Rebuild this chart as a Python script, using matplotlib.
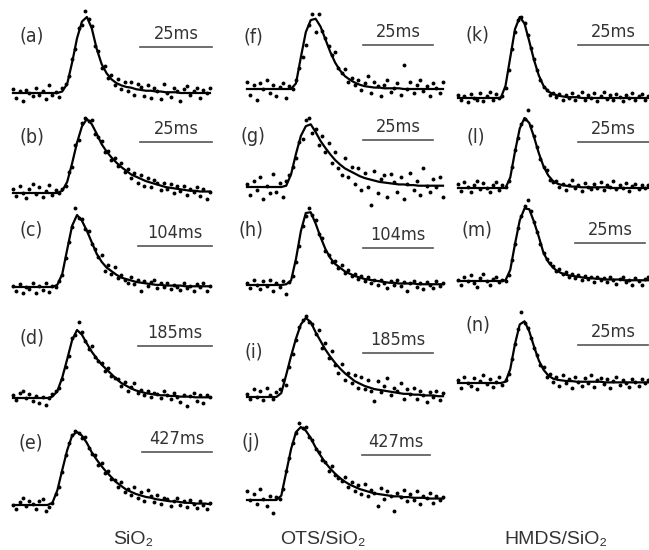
import matplotlib.pyplot as plt
import numpy as np

# normalised time axis shared by every trace (0 = left end of panel, 1 = right end)
x_fit = np.linspace(0, 1, 41)
x_pts = np.linspace(0, 1, 61)

# fitted curves (normalised intensity, baseline 0, peak 1)
fit_a = [0, 0, 0, 0, 0, 0, 0, 0, 0, 0,
         0.02, 0.12, 0.40, 0.72, 0.94, 1.00, 0.85, 0.58, 0.38, 0.26,
         0.18, 0.13, 0.10, 0.08, 0.07, 0.05, 0.04, 0.03, 0.03, 0.02,
         0.02, 0.01, 0.01, 0.01, 0, 0, 0, 0, 0, 0,
         0]
fit_b = [0, 0, 0, 0, 0, 0, 0, 0, 0, 0,
         0.03, 0.15, 0.40, 0.68, 0.90, 1.00, 0.93, 0.80, 0.66, 0.56,
         0.48, 0.41, 0.35, 0.30, 0.25, 0.22, 0.19, 0.16, 0.14, 0.12,
         0.10, 0.08, 0.07, 0.06, 0.05, 0.04, 0.03, 0.03, 0.02, 0.02,
         0.02]
fit_c = [0, 0, 0, 0, 0, 0, 0, 0, 0, 0.03,
         0.18, 0.52, 0.85, 1.00, 0.92, 0.78, 0.62, 0.46, 0.35, 0.27,
         0.22, 0.17, 0.13, 0.11, 0.09, 0.07, 0.06, 0.05, 0.04, 0.03,
         0.03, 0.02, 0.02, 0.02, 0.02, 0.01, 0.01, 0.01, 0.01, 0.01,
         0.01]
fit_d = [0, 0, 0, 0, 0, 0, 0, 0, 0.02, 0.10,
         0.30, 0.57, 0.85, 1.00, 0.93, 0.80, 0.68, 0.58, 0.49, 0.42,
         0.35, 0.28, 0.22, 0.18, 0.14, 0.11, 0.09, 0.07, 0.06, 0.05,
         0.04, 0.04, 0.03, 0.03, 0.02, 0.02, 0.02, 0.01, 0.01, 0.01,
         0.01]
fit_e = [0, 0, 0, 0, 0, 0, 0, 0, 0.03, 0.20,
         0.48, 0.75, 0.95, 1.00, 0.95, 0.85, 0.72, 0.62, 0.53, 0.45,
         0.38, 0.31, 0.26, 0.21, 0.18, 0.15, 0.13, 0.11, 0.10, 0.08,
         0.07, 0.06, 0.05, 0.05, 0.04, 0.03, 0.03, 0.02, 0.02, 0.02,
         0.01]
fit_f = [0, 0, 0, 0, 0, 0, 0, 0, 0, 0,
         0.08, 0.45, 0.80, 0.97, 0.99, 0.88, 0.70, 0.52, 0.37, 0.26,
         0.18, 0.13, 0.09, 0.06, 0.04, 0.03, 0.02, 0.02, 0.01, 0.01,
         0.01, 0.01, 0, 0, 0, 0, 0, 0, 0, 0,
         0]
fit_g = [0, 0, 0, 0, 0, 0, 0, 0, 0.02, 0.20,
         0.52, 0.80, 0.95, 0.98, 0.86, 0.72, 0.61, 0.51, 0.42, 0.35,
         0.29, 0.25, 0.21, 0.17, 0.14, 0.12, 0.10, 0.08, 0.07, 0.06,
         0.05, 0.04, 0.04, 0.03, 0.03, 0.02, 0.02, 0.02, 0.02, 0.02,
         0.02]
fit_h = [0, 0, 0, 0, 0, 0, 0, 0, 0.01, 0.06,
         0.35, 0.72, 0.96, 0.97, 0.82, 0.64, 0.48, 0.36, 0.28, 0.23,
         0.18, 0.15, 0.12, 0.10, 0.08, 0.07, 0.06, 0.05, 0.04, 0.03,
         0.03, 0.02, 0.02, 0.02, 0.02, 0.01, 0.01, 0.01, 0.01, 0.01,
         0.01]
fit_i = [0, 0, 0, 0, 0, 0, 0, 0.05, 0.28, 0.52,
         0.74, 0.92, 1.00, 0.95, 0.82, 0.71, 0.60, 0.51, 0.43, 0.36,
         0.30, 0.25, 0.20, 0.17, 0.14, 0.12, 0.10, 0.09, 0.08, 0.07,
         0.06, 0.05, 0.04, 0.04, 0.03, 0.03, 0.02, 0.02, 0.02, 0.01,
         0.01]
fit_j = [0, 0, 0, 0, 0, 0, 0, 0.06, 0.38, 0.70,
         0.93, 1.00, 0.95, 0.85, 0.72, 0.61, 0.51, 0.43, 0.36, 0.30,
         0.25, 0.21, 0.18, 0.15, 0.13, 0.11, 0.09, 0.08, 0.07, 0.06,
         0.05, 0.05, 0.04, 0.04, 0.03, 0.03, 0.03, 0.02, 0.02, 0.02,
         0.02]
fit_k = [0, 0, 0, 0, 0, 0, 0, 0, 0, 0,
         0.15, 0.50, 0.85, 1.00, 0.92, 0.70, 0.47, 0.28, 0.15, 0.08,
         0.05, 0.03, 0.02, 0.01, 0.01, 0.01, 0, 0, 0, 0,
         0, 0, 0, 0, 0, 0, 0, 0, 0, 0,
         0]
fit_l = [0, 0, 0, 0, 0, 0, 0, 0, 0, 0,
         0.00, 0.15, 0.52, 0.85, 1.00, 0.93, 0.73, 0.50, 0.31, 0.18,
         0.10, 0.06, 0.04, 0.03, 0.02, 0.02, 0.01, 0.01, 0.01, 0.01,
         0.01, 0.01, 0, 0, 0, 0, 0, 0, 0, 0,
         0]
fit_m = [0, 0, 0, 0, 0, 0, 0, 0, 0, 0,
         0.01, 0.15, 0.50, 0.82, 0.98, 0.97, 0.80, 0.60, 0.38, 0.26,
         0.18, 0.13, 0.10, 0.08, 0.07, 0.06, 0.05, 0.04, 0.04, 0.03,
         0.03, 0.02, 0.02, 0.02, 0.02, 0.01, 0.01, 0.01, 0.01, 0.01,
         0.01]
fit_n = [0, 0, 0, 0, 0, 0, 0, 0, 0, 0,
         0.02, 0.22, 0.62, 0.93, 0.98, 0.82, 0.58, 0.36, 0.21, 0.12,
         0.07, 0.05, 0.04, 0.03, 0.03, 0.02, 0.02, 0.02, 0.02, 0.02,
         0.02, 0.01, 0.01, 0.01, 0.01, 0.01, 0.01, 0.01, 0.01, 0.01,
         0.01]

# measured points (same normalisation)
pts_a = [0.05, -0.06, 0.02, -0.10, 0.04, 0.00, -0.04, 0.07, -0.02, 0.03,
         -0.08, 0.10, -0.03, 0.01, -0.05, 0.06, 0.12, 0.22, 0.45, 0.58,
         0.85, 0.90, 1.08, 0.98, 0.88, 0.62, 0.55, 0.33, 0.35, 0.20,
         0.24, 0.10, 0.18, 0.05, 0.14, 0.02, 0.15, -0.03, 0.12, 0.08,
         -0.04, 0.10, -0.06, 0.07, 0.02, -0.08, 0.12, 0.00, -0.05, 0.06,
         0.03, -0.10, 0.05, 0.09, -0.03, 0.02, 0.07, -0.06, 0.04, 0.00,
         0.06]
pts_b = [0.06, -0.04, 0.10, 0.00, -0.07, 0.05, 0.12, -0.02, 0.08, -0.05,
         0.03, 0.11, -0.03, 0.04, 0.00, 0.05, 0.10, 0.28, 0.35, 0.65,
         0.72, 0.95, 1.02, 0.97, 0.98, 0.80, 0.76, 0.70, 0.55, 0.57,
         0.45, 0.47, 0.36, 0.40, 0.28, 0.33, 0.20, 0.27, 0.14, 0.24,
         0.10, 0.20, 0.08, 0.18, 0.14, 0.04, 0.13, 0.06, 0.12, 0.00,
         0.09, 0.03, 0.10, -0.03, 0.06, 0.01, 0.08, -0.04, 0.05, -0.08,
         0.02]
pts_c = [0.02, -0.05, 0.04, -0.08, 0.00, -0.03, 0.05, -0.09, 0.01, -0.04,
         0.06, -0.07, 0.02, 0.00, 0.08, 0.16, 0.40, 0.62, 0.83, 1.10,
         0.96, 0.95, 0.80, 0.78, 0.60, 0.53, 0.42, 0.45, 0.22, 0.30,
         0.18, 0.28, 0.12, 0.16, 0.10, 0.06, 0.14, 0.04, 0.10, -0.05,
         0.08, 0.02, 0.07, 0.10, -0.02, 0.05, 0.00, 0.06, -0.03, 0.03,
         0.00, -0.04, 0.05, -0.02, 0.02, -0.06, 0.04, 0.00, 0.06, -0.05,
         0.02]
pts_d = [0.05, -0.03, 0.08, 0.10, 0.00, 0.06, -0.04, 0.03, -0.07, 0.02,
         -0.10, 0.00, 0.06, 0.10, 0.15, 0.28, 0.46, 0.62, 0.88, 0.92,
         1.12, 0.97, 0.84, 0.72, 0.76, 0.60, 0.55, 0.52, 0.40, 0.44,
         0.32, 0.30, 0.28, 0.18, 0.24, 0.10, 0.16, 0.22, 0.08, 0.12,
         0.04, 0.10, 0.02, 0.08, 0.06, 0.00, 0.10, 0.04, -0.02, 0.08,
         0.02, -0.06, 0.05, -0.12, 0.03, 0.07, -0.04, 0.05, -0.08, 0.04,
         0.02]
pts_e = [0.00, -0.05, 0.04, 0.10, -0.02, 0.06, 0.02, -0.06, 0.05, 0.08,
         -0.08, -0.03, 0.03, 0.15, 0.25, 0.45, 0.68, 0.85, 0.96, 1.02,
         0.98, 0.92, 0.93, 0.78, 0.70, 0.68, 0.55, 0.58, 0.44, 0.46,
         0.36, 0.34, 0.25, 0.32, 0.18, 0.22, 0.14, 0.24, 0.10, 0.18,
         0.06, 0.20, 0.12, 0.04, 0.14, 0.02, 0.10, 0.08, -0.02, 0.06,
         0.10, 0.00, 0.05, -0.03, 0.07, 0.02, -0.04, 0.06, 0.00, -0.05,
         0.03]
pts_f = [0.10, -0.08, 0.05, -0.15, 0.08, 0.00, 0.12, -0.05, 0.06, -0.10,
         0.03, 0.09, -0.12, 0.04, 0.00, 0.12, 0.30, 0.45, 0.62, 0.90,
         1.05, 0.80, 1.05, 0.82, 0.72, 0.60, 0.48, 0.52, 0.30, 0.22,
         0.28, 0.10, 0.15, 0.05, 0.12, -0.02, 0.08, 0.18, -0.06, 0.10,
         0.04, -0.10, 0.06, 0.12, -0.04, 0.02, 0.08, -0.08, 0.34, 0.00,
         0.10, -0.05, 0.06, 0.12, -0.03, 0.04, -0.10, 0.08, 0.02, -0.06,
         0.10]
pts_g = [0.05, -0.12, 0.10, -0.05, 0.15, -0.18, 0.02, -0.10, 0.20, -0.08,
         0.06, -0.15, 0.10, 0.18, 0.32, 0.45, 0.70, 0.75, 1.05, 1.08,
         0.85, 0.90, 0.65, 0.80, 0.55, 0.68, 0.38, 0.55, 0.30, 0.18,
         0.45, 0.15, 0.32, 0.05, 0.30, -0.05, 0.22, 0.00, -0.28, 0.25,
         -0.10, 0.12, 0.18, -0.15, 0.20, 0.08, -0.08, 0.15, -0.18, 0.05,
         0.22, -0.05, 0.10, -0.12, 0.30, 0.02, -0.08, 0.12, 0.00, 0.15,
         -0.15]
pts_h = [0.03, -0.04, 0.06, 0.00, -0.06, 0.05, -0.02, 0.07, -0.08, 0.02,
         -0.03, 0.05, -0.12, 0.04, 0.12, 0.30, 0.52, 0.78, 0.92, 1.02,
         0.93, 0.86, 0.68, 0.62, 0.45, 0.40, 0.30, 0.32, 0.22, 0.26,
         0.16, 0.20, 0.12, 0.15, 0.08, 0.12, 0.05, 0.10, 0.03, 0.07,
         0.00, 0.06, 0.02, -0.04, 0.05, 0.00, 0.06, -0.02, 0.04, -0.08,
         0.03, 0.05, -0.03, 0.02, -0.06, 0.04, 0.00, -0.04, 0.05, -0.02,
         0.03]
pts_i = [0.04, -0.02, 0.10, 0.00, 0.08, -0.04, 0.12, 0.02, -0.03, 0.06,
         0.10, 0.22, 0.15, 0.38, 0.55, 0.72, 0.88, 0.98, 1.03, 0.95,
         0.92, 0.80, 0.85, 0.62, 0.68, 0.50, 0.58, 0.40, 0.30, 0.42,
         0.22, 0.30, 0.18, 0.28, 0.12, 0.25, 0.10, 0.22, 0.08, -0.05,
         0.20, 0.06, 0.14, 0.24, 0.02, 0.12, 0.08, 0.18, -0.02, 0.10,
         0.04, 0.12, -0.03, 0.08, 0.02, -0.06, 0.06, 0.00, 0.08, -0.04,
         0.05]
pts_j = [0.12, 0.00, 0.08, -0.05, 0.15, 0.02, -0.08, 0.06, -0.18, 0.04,
         0.02, 0.15, 0.40, 0.58, 0.78, 0.92, 1.05, 0.98, 1.00, 0.86,
         0.82, 0.70, 0.66, 0.55, 0.52, 0.40, 0.46, 0.34, 0.30, 0.26,
         0.32, 0.18, 0.24, 0.12, 0.20, 0.08, 0.22, 0.05, 0.14, 0.10,
         -0.08, 0.16, 0.02, 0.12, 0.06, -0.15, 0.10, 0.04, 0.14, -0.02,
         0.08, 0.00, 0.12, -0.05, 0.06, 0.03, 0.10, -0.04, 0.05, 0.00,
         0.04]
pts_k = [0.04, -0.03, 0.02, -0.05, 0.05, 0.00, -0.02, 0.06, -0.04, 0.03,
         0.08, -0.02, 0.05, 0.00, 0.03, 0.12, 0.35, 0.60, 0.82, 0.96,
         1.00, 0.93, 0.78, 0.62, 0.48, 0.34, 0.22, 0.14, 0.10, 0.04,
         0.06, 0.01, 0.05, -0.02, 0.04, 0.00, 0.06, -0.03, 0.03, 0.07,
         -0.02, 0.04, 0.00, 0.06, -0.04, 0.03, 0.08, -0.01, 0.04, -0.03,
         0.05, 0.01, -0.04, 0.04, 0.00, 0.06, -0.02, 0.03, 0.05, -0.03,
         0.02]
pts_l = [0.06, -0.04, 0.08, 0.02, -0.06, 0.05, 0.10, -0.02, 0.07, 0.00,
         -0.05, 0.04, 0.08, -0.03, 0.05, 0.02, 0.10, 0.30, 0.55, 0.72,
         0.92, 0.98, 1.12, 0.88, 0.75, 0.58, 0.42, 0.30, 0.26, 0.12,
         0.08, 0.10, 0.02, 0.06, -0.03, 0.05, 0.12, 0.00, 0.04, -0.04,
         0.07, 0.02, -0.02, 0.06, 0.00, 0.09, -0.03, 0.04, 0.01, 0.10,
         -0.02, 0.05, 0.00, 0.07, -0.04, 0.03, 0.06, -0.02, 0.04, 0.00,
         0.05]
pts_m = [0.02, -0.05, 0.05, 0.00, 0.08, -0.03, -0.08, 0.04, 0.10, 0.00,
         -0.06, 0.03, 0.05, -0.02, 0.02, 0.00, 0.08, 0.28, 0.50, 0.72,
         0.88, 1.02, 1.10, 0.94, 0.80, 0.66, 0.50, 0.38, 0.30, 0.24,
         0.20, 0.14, 0.16, 0.10, 0.12, 0.06, 0.10, 0.04, 0.08, 0.02,
         0.07, 0.03, 0.05, -0.01, 0.06, 0.02, 0.04, -0.02, 0.05, 0.01,
         -0.04, 0.03, 0.06, -0.02, 0.02, -0.05, 0.04, 0.00, -0.06, 0.03,
         0.05]
pts_n = [0.05, -0.08, 0.10, 0.00, -0.04, 0.08, -0.10, 0.03, 0.12, -0.02,
         0.06, -0.06, 0.02, 0.09, -0.03, 0.05, 0.15, 0.38, 0.62, 0.85,
         1.12, 0.95, 0.88, 0.72, 0.55, 0.45, 0.28, 0.25, 0.10, 0.14,
         0.02, 0.10, -0.05, 0.12, 0.00, 0.06, -0.08, 0.10, 0.02, -0.04,
         0.08, 0.00, 0.12, -0.06, 0.04, 0.08, -0.02, 0.06, -0.08, 0.03,
         0.10, -0.03, 0.05, 0.00, -0.06, 0.07, 0.02, -0.04, 0.06, 0.00,
         0.04]

panel_ids = ["(a)", "(b)", "(c)", "(d)", "(e)",
             "(f)", "(g)", "(h)", "(i)", "(j)",
             "(k)", "(l)", "(m)", "(n)"]
scale_labels = ["25ms", "25ms", "104ms", "185ms", "427ms",
                "25ms", "25ms", "104ms", "185ms", "427ms",
                "25ms", "25ms", "25ms", "25ms"]
column_titles = ["SiO₂", "OTS/SiO₂", "HMDS/SiO₂"]

fits = [fit_a, fit_b, fit_c, fit_d, fit_e, fit_f, fit_g,
        fit_h, fit_i, fit_j, fit_k, fit_l, fit_m, fit_n]
points = [pts_a, pts_b, pts_c, pts_d, pts_e, pts_f, pts_g,
          pts_h, pts_i, pts_j, pts_k, pts_l, pts_m, pts_n]

# --- layout (pixels on the 649x550 canvas) ---
W, H = 649, 550
col_span = [(13, 210), (247, 443), (458, 648)]
panel_col = [0] * 5 + [1] * 5 + [2] * 4
panel_base = [93, 193, 287, 398, 505, 89, 187, 285, 397, 500, 98, 188, 281, 383]
panel_peak = [17, 119, 215, 330, 432, 18, 123, 210, 318, 427, 17, 118, 207, 320]
label_xy = [(32, 36), (32, 137), (31, 230), (32, 338), (31, 443),
            (253, 37), (253, 137), (251, 230), (254, 352), (251, 443),
            (477, 35), (476, 137), (477, 230), (478, 325)]
bar_xy = [(140, 212, 47), (140, 212, 142), (138, 212, 246), (138, 212, 346), (142, 212, 452),
          (363, 433, 45), (363, 433, 140), (363, 433, 248), (363, 433, 353), (362, 430, 455),
          (578, 649, 45), (578, 649, 142), (575, 645, 243), (578, 648, 345)]
title_xy = [(133, 540), (323, 540), (556, 540)]

text_col = "#333333"

fig = plt.figure(figsize=(W / 100, H / 100), dpi=100)

# overlay in pixel coordinates for labels and scale bars
over = fig.add_axes([0, 0, 1, 1])
over.set_xlim(0, W)
over.set_ylim(H, 0)
over.axis("off")

lo, hi = -0.5, 1.3
for k in range(len(panel_ids)):
    x0, x1 = col_span[panel_col[k]]
    amp = panel_base[k] - panel_peak[k]
    bottom = panel_base[k] - lo * amp
    top = panel_base[k] - hi * amp
    ax = fig.add_axes([x0 / W, 1 - bottom / H, (x1 - x0) / W, (bottom - top) / H])
    ax.set_xlim(0, 1)
    ax.set_ylim(lo, hi)
    ax.axis("off")
    ax.plot(x_pts, points[k], "o", ms=2.8, mec="none", color="black", clip_on=False)
    ax.plot(x_fit, fits[k], color="black", lw=1.6, clip_on=False)

    lx, ly = label_xy[k]
    over.text(lx, ly, panel_ids[k], ha="center", va="center", fontsize=14,
              family="DejaVu Sans", stretch="condensed", color=text_col)
    bx0, bx1, by = bar_xy[k]
    over.plot([bx0, bx1], [by, by], color="#555555", lw=1.2)
    over.text((bx0 + bx1) / 2, by - 4, scale_labels[k], ha="center", va="bottom",
              fontsize=13, family="DejaVu Sans", stretch="condensed", color=text_col)

for (tx, ty), title in zip(title_xy, column_titles):
    over.text(tx, ty, title, ha="center", va="center", fontsize=14,
              family=["Liberation Sans", "DejaVu Sans"], color=text_col)

fig.savefig("out.png", dpi=100)
